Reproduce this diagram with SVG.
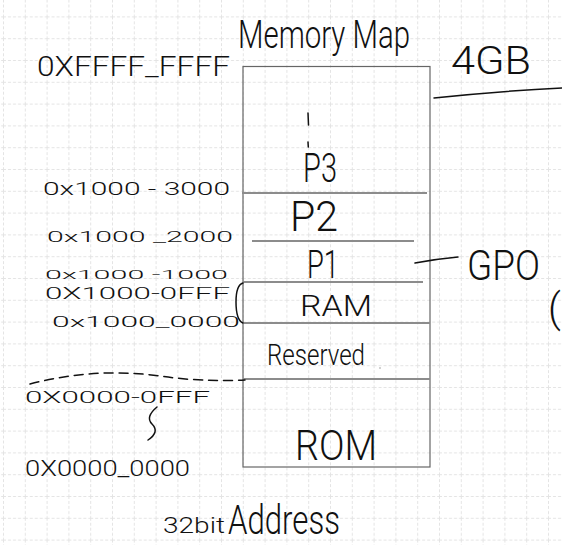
<svg xmlns="http://www.w3.org/2000/svg" width="562" height="545" viewBox="0 0 562 545">
<defs>
<pattern id="grid" patternUnits="userSpaceOnUse" x="3" y="16.4" width="21.8" height="21.8">
<path d="M0,0.5 H21.8 M0.5,0 V21.8" fill="none" stroke="#e4e4e4" stroke-width="1" stroke-dasharray="3 2"/>
</pattern>
</defs>
<style>
.h{font-family:Roboto,"Liberation Sans",sans-serif;font-weight:300;fill:#111}
.div{stroke:#8c8c8c;stroke-width:1.8;fill:none}
.ink{stroke:#111;stroke-width:1.5;fill:none;stroke-linecap:round}
</style>
<rect width="562" height="545" fill="#ffffff"/>
<rect width="562" height="545" fill="url(#grid)"/>

<g id="title"><text class="h" x="238" y="48" font-size="39" textLength="172" lengthAdjust="spacingAndGlyphs">Memory Map</text></g>
<g id="size"><text class="h" x="451" y="74" font-size="38" textLength="80" lengthAdjust="spacingAndGlyphs">4GB</text></g>

<g id="memory-map">
<rect x="243" y="66.5" width="187" height="400.5" fill="none" stroke="#666" stroke-width="1.2"/>
<path class="div" d="M242,193 H427"/>
<path class="div" d="M252,241 H414"/>
<path class="div" d="M243,282 H423"/>
<path class="div" d="M243,323 H430"/>
<path class="div" d="M243,379 H430"/>
</g>

<g id="region-p3"><path class="ink" d="M308,113 L308.5,125 M308,142 L308.3,147" stroke-width="1.2"/><text class="h" x="303" y="182" font-size="40" textLength="34" lengthAdjust="spacingAndGlyphs">P3</text></g>
<g id="region-p2"><text class="h" x="290" y="231" font-size="42" textLength="48" lengthAdjust="spacingAndGlyphs">P2</text></g>
<g id="region-p1"><text class="h" x="307" y="278" font-size="38" textLength="32" lengthAdjust="spacingAndGlyphs">P1</text></g>
<g id="region-ram"><text class="h" x="300" y="316" font-size="30" textLength="72" lengthAdjust="spacingAndGlyphs">RAM</text></g>
<g id="region-reserved"><text class="h" x="267" y="365" font-size="30" textLength="98" lengthAdjust="spacingAndGlyphs">Reserved</text><circle cx="380" cy="368" r="0.8" fill="#999"/></g>
<g id="region-rom"><text class="h" x="295" y="460" font-size="42" textLength="82" lengthAdjust="spacingAndGlyphs">ROM</text></g>
<g id="gpo"><text class="h" x="467" y="280" font-size="42" textLength="73" lengthAdjust="spacingAndGlyphs">GPO</text></g>
<g id="paren"><text class="h" x="548" y="322" font-size="40">(</text></g>

<g id="addresses">
<text class="h" x="37" y="76" font-size="27" textLength="193" lengthAdjust="spacingAndGlyphs">0XFFFF_FFFF</text>
<text class="h" x="43" y="195" font-size="18" textLength="187" lengthAdjust="spacingAndGlyphs">0x1000 - 3000</text>
<text class="h" x="47" y="242" font-size="15" textLength="186" lengthAdjust="spacingAndGlyphs">0x1000 _2000</text>
<text class="h" x="45" y="279" font-size="12" textLength="183" lengthAdjust="spacingAndGlyphs">0x1000 -1000</text>
<text class="h" x="45" y="299" font-size="16" textLength="185" lengthAdjust="spacingAndGlyphs">0X1000-0FFF</text>
<text class="h" x="52" y="327" font-size="14" textLength="188" lengthAdjust="spacingAndGlyphs">0x1000_0000</text>
<text class="h" x="25" y="403" font-size="17" textLength="185" lengthAdjust="spacingAndGlyphs">0X0000-0FFF</text>
<text class="h" x="25" y="476" font-size="22" textLength="165" lengthAdjust="spacingAndGlyphs">0X0000_0000</text>
</g>

<g id="caption">
<text class="h" x="163" y="533" font-size="22" textLength="62" lengthAdjust="spacingAndGlyphs">32bit</text>
<text class="h" x="228" y="534" font-size="40" textLength="112" lengthAdjust="spacingAndGlyphs">Address</text>
</g>

<g id="connectors">
<path class="ink" d="M434,98 Q500,91 562,88"/>
<path class="ink" d="M415,263 Q436,259 458,257"/>
<path class="ink" d="M243,283 Q236,285 236,302 Q236,320 243,323" stroke-width="1.3"/>
<path class="ink" d="M30,384 Q95,367 160,376 Q200,382 245,380" stroke="#777" stroke-dasharray="9 6" stroke-width="1.3"/>
<path class="ink" d="M157,407 Q145,417 152,424 Q160,432 148,440" stroke-width="1.3"/>
</g>
</svg>
